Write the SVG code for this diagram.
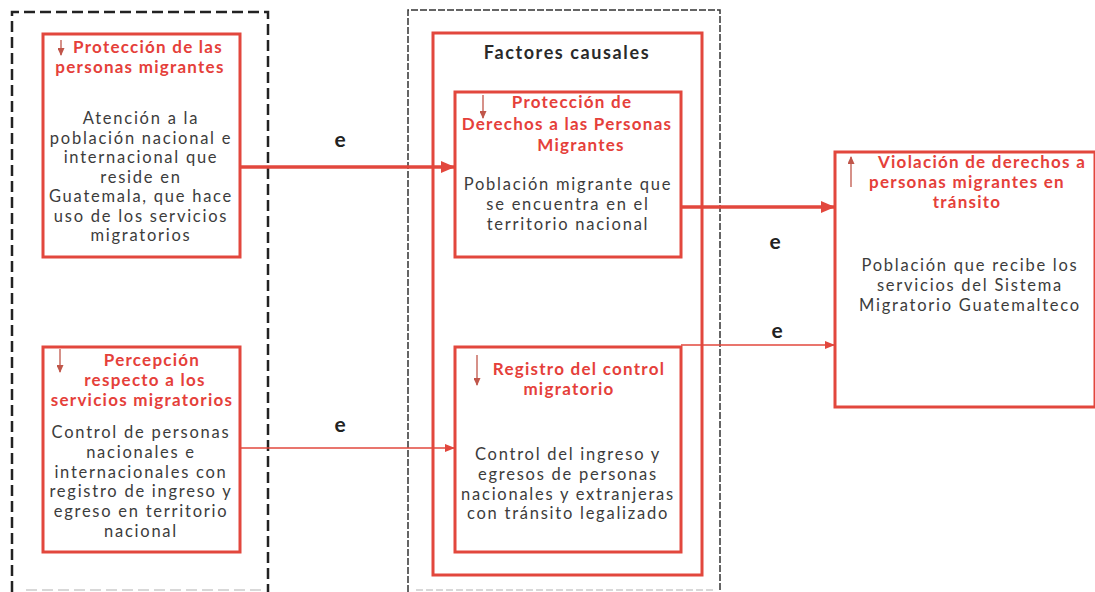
<svg xmlns="http://www.w3.org/2000/svg" width="1095" height="592" viewBox="0 0 1095 592">
<defs>
<style>
.bg{fill:#ffffff}
.dash1{fill:none;stroke:#222;stroke-width:2.5;stroke-dasharray:11 5}
.dash2{fill:none;stroke:#333;stroke-width:1.5;stroke-dasharray:7 2}
.box{fill:#fff;stroke:#e2473d;stroke-width:3}
.boxo{fill:none;stroke:#e2473d;stroke-width:3}
.ttl{font-family:Lato,"Open Sans",sans-serif;font-weight:bold;font-size:17px;fill:#e5403a;text-anchor:middle;letter-spacing:1.25px}
.hdr{font-family:Lato,"Open Sans",sans-serif;font-weight:bold;font-size:18px;fill:#2a2a2a;text-anchor:middle;letter-spacing:1.6px}
.txt{font-family:Lato,"Open Sans",sans-serif;font-size:16.5px;fill:#3c3c3c;text-anchor:middle;letter-spacing:1.75px}
.lbl{font-family:Lato,"Open Sans",sans-serif;font-weight:bold;font-size:21px;fill:#222;text-anchor:middle}
.thick{fill:none;stroke:#e2473d;stroke-width:3.5}
.thin{fill:none;stroke:#e2473d;stroke-width:1.5}
.mini{fill:none;stroke:#c0564a;stroke-width:1.3}
</style>
<marker id="ahT" markerWidth="14" markerHeight="12" refX="13" refY="6" orient="auto" markerUnits="userSpaceOnUse">
<path d="M0,0 L14,6 L0,12 Z" fill="#e2473d"/>
</marker>
<marker id="ahS" markerWidth="10" markerHeight="8" refX="9" refY="4" orient="auto" markerUnits="userSpaceOnUse">
<path d="M0,0 L10,4 L0,8 Z" fill="#e2473d"/>
</marker>
<marker id="ahM" markerWidth="8" markerHeight="7" refX="7" refY="3.5" orient="auto" markerUnits="userSpaceOnUse">
<path d="M0,0 L8,3.5 L0,7 Z" fill="#c0564a"/>
</marker>
</defs>
<rect class="bg" x="0" y="0" width="1095" height="592"/>

<g id="group-left">
<path class="dash1" d="M12,592 L12,12 L268,12 L268,592"/>
<line x1="26" y1="590" x2="262" y2="590" stroke="#ccc" stroke-width="1.5" stroke-dasharray="11 5"/>
</g>
<g id="group-middle">
<path class="dash2" d="M408,592 L408,10 L720,10 L720,592"/>
<line x1="416" y1="590" x2="715" y2="590" stroke="#ccc" stroke-width="1.5" stroke-dasharray="7 3"/>
</g>

<g id="factores-causales">
<rect class="boxo" x="433" y="33" width="269" height="542"/>
<text class="hdr" x="567" y="59">Factores causales</text>
</g>

<g id="node-proteccion-personas">
<rect class="box" x="43" y="34" width="197" height="223"/>
<line class="mini" x1="61" y1="40" x2="61" y2="55" marker-end="url(#ahM)"/>
<text class="ttl" x="148" y="53">Protección de las</text>
<text class="ttl" x="140" y="73">personas migrantes</text>
<text class="txt" x="141" y="124">Atención a la</text>
<text class="txt" x="141" y="143.5">población nacional e</text>
<text class="txt" x="141" y="163">internacional que</text>
<text class="txt" x="141" y="182.5">reside en</text>
<text class="txt" x="141" y="202">Guatemala, que hace</text>
<text class="txt" x="141" y="221.5">uso de los servicios</text>
<text class="txt" x="141" y="241">migratorios</text>
</g>

<g id="node-percepcion">
<rect class="box" x="43" y="347" width="197" height="205"/>
<line class="mini" x1="60" y1="349" x2="60" y2="372" marker-end="url(#ahM)"/>
<text class="ttl" x="152" y="366">Percepción</text>
<text class="ttl" x="145" y="386">respecto a los</text>
<text class="ttl" x="142" y="406">servicios migratorios</text>
<text class="txt" x="141" y="438">Control de personas</text>
<text class="txt" x="141" y="457.8">nacionales e</text>
<text class="txt" x="141" y="477.6">internacionales con</text>
<text class="txt" x="141" y="497.4">registro de ingreso y</text>
<text class="txt" x="141" y="517.2">egreso en territorio</text>
<text class="txt" x="141" y="537">nacional</text>
</g>

<g id="node-proteccion-derechos">
<rect class="box" x="455" y="92" width="226" height="165"/>
<line class="mini" x1="483" y1="95" x2="483" y2="118" marker-end="url(#ahM)"/>
<text class="ttl" x="572" y="108">Protección de</text>
<text class="ttl" x="567" y="129.5">Derechos a las Personas</text>
<text class="ttl" x="581" y="151">Migrantes</text>
<text class="txt" x="568" y="190">Población migrante que</text>
<text class="txt" x="568" y="210">se encuentra en el</text>
<text class="txt" x="568" y="230">territorio nacional</text>
</g>

<g id="node-registro">
<rect class="box" x="455" y="347" width="226" height="205"/>
<line class="mini" x1="477" y1="355" x2="477" y2="385" marker-end="url(#ahM)"/>
<text class="ttl" x="579" y="375">Registro del control</text>
<text class="ttl" x="569" y="395">migratorio</text>
<text class="txt" x="568" y="460">Control del ingreso y</text>
<text class="txt" x="568" y="479.8">egresos de personas</text>
<text class="txt" x="568" y="499.6">nacionales y extranjeras</text>
<text class="txt" x="568" y="519.4">con tránsito legalizado</text>
</g>

<g id="node-violacion">
<rect class="box" x="835" y="152" width="260" height="255"/>
<line class="mini" x1="851" y1="187" x2="851" y2="157" marker-end="url(#ahM)"/>
<text class="ttl" x="982" y="168">Violación de derechos a</text>
<text class="ttl" x="967" y="188">personas migrantes en</text>
<text class="ttl" x="967" y="208">tránsito</text>
<text class="txt" x="970" y="271">Población  que recibe los</text>
<text class="txt" x="970" y="291">servicios del Sistema</text>
<text class="txt" x="970" y="311">Migratorio Guatemalteco</text>
</g>

<g id="connectors">
<line class="thick" x1="240" y1="167" x2="454" y2="167" marker-end="url(#ahT)"/>
<line class="thick" x1="681" y1="207" x2="834" y2="207" marker-end="url(#ahT)"/>
<line class="thin" x1="681" y1="345" x2="834" y2="345" marker-end="url(#ahS)"/>
<line class="thin" x1="240" y1="448" x2="454" y2="448" marker-end="url(#ahS)"/>
<text class="lbl" x="340" y="147">e</text>
<text class="lbl" x="340" y="432">e</text>
<text class="lbl" x="775" y="249">e</text>
<text class="lbl" x="777" y="338">e</text>
</g>
</svg>
